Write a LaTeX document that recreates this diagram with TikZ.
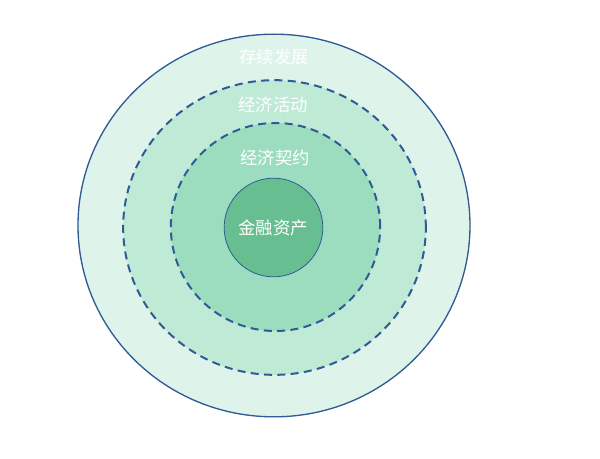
\documentclass[tikz,border=0pt]{standalone}
\usepackage{fontspec}
\newfontfamily\cjk{Noto Sans CJK SC}
\usepackage{tikz}
\usetikzlibrary{positioning}
\usetikzlibrary{shapes.geometric}

\definecolor{ringA}{HTML}{DEF3EA}
\definecolor{ringB}{HTML}{BEEAD6}
\definecolor{ringC}{HTML}{9CDDC0}
\definecolor{core}{HTML}{67BF91}
\definecolor{edge}{HTML}{2F5C94}

\tikzset{
  ring/.style={ellipse, draw=edge, inner sep=0pt},
  dashring/.style={ring, line width=1.5pt, dash pattern=on 6pt off 4pt},
  lbl/.style={text=white, font=\cjk\fontsize{13}{15}\selectfont}
}

\begin{document}
\begin{tikzpicture}[x=0.75pt, y=-0.75pt]
    \useasboundingbox (0,0) rectangle (600,459);
    \node[ring, line width=1pt, fill=ringA, minimum width=294pt, minimum height=287pt] (outer) at (274, 225.5) {};
    \node[dashring, fill=ringB, minimum width=227pt, minimum height=221pt] (activity) at (274.5, 227.5) {};
    \node[dashring, fill=ringC, minimum width=157pt, minimum height=156pt] (contract) at (275.5, 227) {};
    \node[ring, line width=0.6pt, fill=core, minimum size=74pt] (asset) at (273.5, 227.5) {};

    \node[lbl] (outerl) at (274, 57) {存续发展};
    \node[lbl] (activityl) at (273, 105) {经济活动};
    \node[lbl] (contractl) at (275, 158) {经济契约};
    \node[lbl] (assetl) at (273, 228) {金融资产};
\end{tikzpicture}
\end{document}
